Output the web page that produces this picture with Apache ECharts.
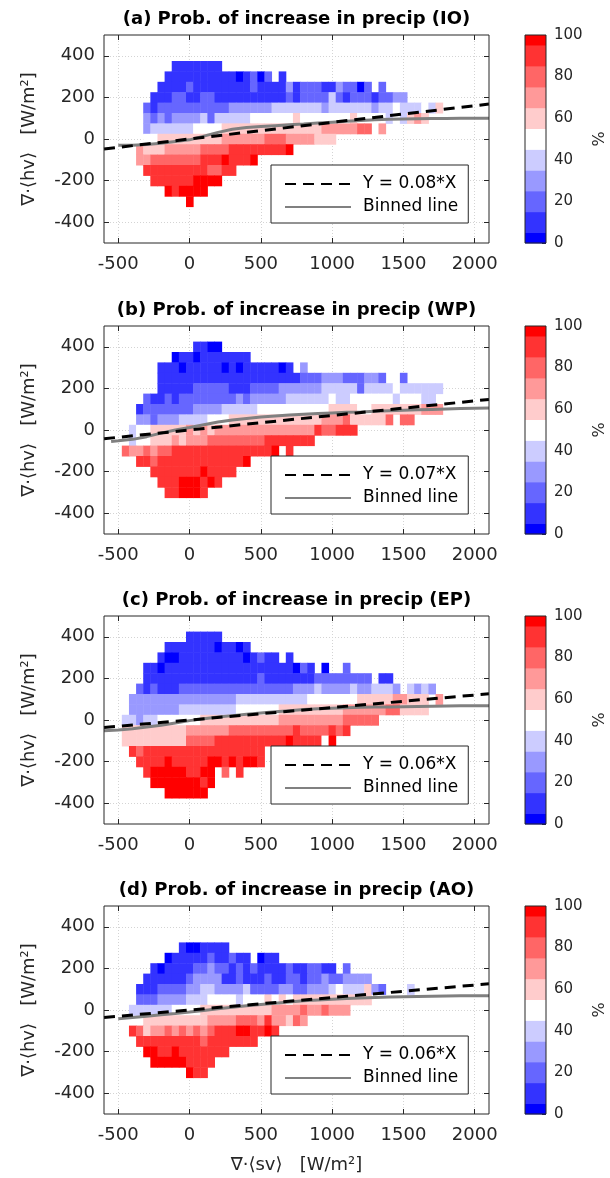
<!DOCTYPE html>
<html><head><meta charset="utf-8">
<script src="https://cdn.jsdelivr.net/npm/echarts@6/dist/echarts.min.js"></script>
<style>html,body{margin:0;padding:0;background:#fff}#c{width:610px;height:1178px}</style>
</head><body><div id="c"></div>
<script>
// ---------------- data ----------------
const panelTitles = [
  '(a) Prob. of increase in precip (IO)',
  '(b) Prob. of increase in precip (WP)',
  '(c) Prob. of increase in precip (EP)',
  '(d) Prob. of increase in precip (AO)'
];
const xTicks = [-500, 0, 500, 1000, 1500, 2000];
const yTicks = [-400, -200, 0, 200, 400];
const cbTicks = [0, 20, 40, 60, 80, 100];
// colour classes (percent)
const levelValues = [0, 10, 20, 30, 40, 50, 60, 70, 80, 90, 100];
const levelLow    = [0, 5, 15, 25, 35, 45, 55, 65, 75, 85, 95];
const levelHigh   = [5, 15, 25, 35, 45, 55, 65, 75, 85, 95, 100];
const levelColors = ['#0000ff','#3333ff','#6666ff','#9999ff','#ccccff','#ffffff',
                     '#ffcccc','#ff9999','#ff6666','#ff3333','#ff0000'];
// heat-map rows: [row centre (y), first column centre (x), class per 50-wide cell; 'A'=100%, '.'=empty]
const cellsA = [
  [350, -100, '1111111'],
  [300, -150, '111111111101202.1'],
  [250, -200, '111121111111121111312221132202.2'],
  [200, -250, '111221122111111111121222242122212233'],
  [150, -300, '212222222222333333444444434444443445444546'],
  [100, -300, '3232333342444445555556555555565555454676'],
  [50, -300, '34444445555666666666666667777788.7'],
  [0, -300, '556666666667777778887777666'],
  [-50, -350, '766677777888899999999A'],
  [-100, -350, '778888888999A999A'],
  [-150, -300, '9999999998899'],
  [-200, -250, '999999AAAA'],
  [-250, -150, 'A9AAAA'],
  [-300, 0, 'A']
];
const cellsB = [
  [400, 50, '1100'],
  [350, -100, '01101111111'],
  [300, -200, '1110111110101111101.3'],
  [250, -200, '11111111111111111111222333222332..2'],
  [200, -200, '1111122222111222233333344444244445444444'],
  [150, -300, '21121222222223233333444444544555555455544'],
  [100, -350, '1222222233334444455555555556666556666666777'],
  [50, -350, '332333444455566666666666667778666668.88'],
  [0, -400, '45566666767677777777777777988999'],
  [-50, -400, '45566676777888888889999999'],
  [-100, -450, '877878899999999999999A.9'],
  [-150, -350, '998999999999999A'],
  [-200, -250, '9999999A9999'],
  [-250, -200, '999AAA9A9'],
  [-300, -150, '99AAA9']
];
const cellsC = [
  [400, 0, '11111'],
  [350, -150, '111111101101'],
  [300, -200, '10011111111101211.1'],
  [250, -300, '110111111111111111111021.0..2'],
  [200, -300, '11111111111111112111111122222222.11'],
  [150, -350, '2121112222222222222222333433334334443.4343'],
  [100, -400, '333333333333333444444444455555556666677666.7'],
  [50, -400, '333333344444444555555666666666777777886666'],
  [0, -450, '443445555556666666666677777777788888'],
  [-50, -450, '66666666677777788888888898888989'],
  [-100, -450, '66666666688889999999999A99995A'],
  [-150, -400, '9899999999999999999'],
  [-200, -350, '9999A99999AA9A9AA9'],
  [-250, -300, '9AAAAA99AA.8.9'],
  [-300, -250, 'AAAAAAA9A'],
  [-350, -150, 'AAAAAA']
];
const cellsD = [
  [300, -50, '1001111'],
  [250, -150, '011111211211.011'],
  [200, -250, '10111122322121211112112211.2'],
  [150, -300, '11111123333112111211221223223333'],
  [100, -350, '11122223344333342222332233345444632...4'],
  [50, -350, '222333344455554555656566666666666'],
  [0, -400, '4444445555666666666677778778777'],
  [-50, -300, '6666666667777888797768 7'.replace(' ', '')],
  [-100, -400, '986778787878999AA99A9'],
  [-150, -350, '99999999989999999'],
  [-200, -300, 'AA99A9999999'],
  [-250, -250, 'AAAAA9999'],
  [-300, 0, 'A99']
];
const fitNames = ['Y = 0.08*X', 'Y = 0.07*X', 'Y = 0.06*X', 'Y = 0.06*X'];
const fitA = [[-600, -48], [2100, 168]];
const fitB = [[-600, -42], [2100, 147]];
const fitC = [[-600, -36], [2100, 126]];
const fitD = [[-600, -36], [2100, 126]];
const binnedA = [[-500,-30],[-400,-30],[-300,-27],[-200,-20],[-100,-12],[0,-4],[100,14],[200,32],[300,47],[400,55],[500,60],[600,64],[700,68],[800,72],[900,77],[1000,81],[1100,85],[1200,89],[1300,92],[1400,95],[1500,96],[1600,97],[1700,98],[1800,99],[1900,100],[2000,100],[2100,100]];
const binnedB = [[-550,-55],[-500,-52],[-400,-45],[-300,-32],[-200,-15],[-100,0],[0,12],[100,25],[200,38],[300,48],[400,55],[500,62],[600,67],[700,72],[800,76],[900,79],[1000,82],[1100,85],[1200,87],[1300,90],[1400,93],[1500,95],[1600,97],[1700,99],[1800,101],[1900,103],[2000,105],[2100,106]];
const binnedC = [[-600,-52],[-500,-48],[-400,-42],[-300,-34],[-200,-25],[-100,-14],[0,-3],[100,6],[200,14],[300,21],[400,28],[500,34],[600,40],[700,45],[800,50],[900,54],[1000,57],[1100,59],[1200,61],[1300,62],[1400,63],[1500,64],[1600,65],[1700,66],[1800,67],[1900,68],[2000,69],[2100,69]];
const binnedD = [[-500,-42],[-400,-36],[-300,-30],[-200,-23],[-100,-17],[0,-10],[100,-2],[200,6],[300,13],[400,20],[500,27],[600,33],[700,39],[800,44],[900,48],[1000,52],[1100,55],[1200,58],[1300,60],[1400,62],[1500,64],[1600,65],[1700,66],[1800,67],[1900,68],[2000,69],[2100,69]];
const yName = '\u2207\u00b7\u27e8hv\u27e9   [W/m\u00b2]';
const xName = '\u2207\u00b7\u27e8sv\u27e9   [W/m\u00b2]';

// ---------------- layout / style ----------------
const BIN = 50;
const FONT = 'DejaVu Sans';
const TXT = '#262626';
const GRID_LEFT = 104, GRID_W = 385, GRID_H = 208;
const TOPS = [35, 326, 616, 906];
const CB_LEFT = 525, CB_W = 21;
const plainNum = v => String(v);

function decode(rows) {
  const out = [];
  rows.forEach(([y, x0, s]) => {
    for (let k = 0; k < s.length; k++) {
      const ch = s[k];
      if (ch === '.') continue;
      const lev = ch === 'A' ? 10 : parseInt(ch, 10);
      out.push([x0 + BIN * k, y, levelValues[lev]]);
    }
  });
  return out;
}
function renderCell(params, api) {
  const x = api.value(0), y = api.value(1);
  const a = api.coord([x - BIN / 2, y + BIN / 2]);
  const b = api.coord([x + BIN / 2, y - BIN / 2]);
  return { type: 'rect', shape: { x: a[0], y: a[1], width: b[0] - a[0] + 0.5, height: b[1] - a[1] + 0.5 },
           style: { fill: api.visual('color') } };
}
function renderSeg(params, api) {
  const a = api.coord([0, api.value(3)]);
  const b = api.coord([1, api.value(1)]);
  return { type: 'rect', shape: { x: a[0], y: a[1], width: b[0] - a[0], height: b[1] - a[1] + 0.4 },
           style: { fill: api.visual('color') } };
}

const panels = [
  { cells: cellsA, fit: fitA, binned: binnedA },
  { cells: cellsB, fit: fitB, binned: binnedB },
  { cells: cellsC, fit: fitC, binned: binnedC },
  { cells: cellsD, fit: fitD, binned: binnedD }
];
const cbData = levelValues.map((v, i) => [0, levelLow[i], v, levelHigh[i]]);

const grid = [], xAxis = [], yAxis = [], series = [], legend = [], graphic = [];
const mappedSeries = [];
const tickStyle = { color: TXT, width: 1 };
panels.forEach((p, i) => {
  const top = TOPS[i];
  grid.push({ left: GRID_LEFT, top, width: GRID_W, height: GRID_H, show: true, z: 10,
              backgroundColor: 'transparent', borderColor: TXT, borderWidth: 1 });
  grid.push({ left: CB_LEFT, top, width: CB_W, height: GRID_H, show: true, z: 10,
              backgroundColor: 'transparent', borderColor: TXT, borderWidth: 1 });
  const gMain = 2 * i, gCb = 2 * i + 1;
  const xi = xAxis.length, yi = yAxis.length;
  xAxis.push({
    type: 'value', gridIndex: gMain, min: -600, max: 2100, position: 'bottom',
    axisLine: { show: false, onZero: false },
    axisTick: { show: true, inside: true, length: 5, customValues: xTicks, lineStyle: tickStyle },
    axisLabel: { customValues: xTicks, formatter: plainNum, fontSize: 18, fontFamily: FONT, color: TXT, margin: 12 },
    splitLine: { show: true, lineStyle: { color: '#d4d4d4', type: [1, 2], width: 1 } },
    name: i === 3 ? xName : '', nameLocation: 'middle', nameGap: 42,
    nameTextStyle: { fontSize: 18, fontFamily: FONT, color: TXT }
  });
  xAxis.push({
    type: 'value', gridIndex: gMain, min: -600, max: 2100, position: 'top',
    axisLine: { show: false, onZero: false }, axisLabel: { show: false }, splitLine: { show: false },
    axisTick: { show: true, inside: true, length: 5, customValues: xTicks, lineStyle: tickStyle }
  });
  xAxis.push({ type: 'value', gridIndex: gCb, min: 0, max: 1, show: false, axisLine: { onZero: false } });
  yAxis.push({
    type: 'value', gridIndex: gMain, min: -500, max: 500, position: 'left',
    axisLine: { show: false, onZero: false },
    axisTick: { show: true, inside: true, length: 5, customValues: yTicks, lineStyle: tickStyle },
    axisLabel: { customValues: yTicks, formatter: plainNum, fontSize: 18, fontFamily: FONT, color: TXT, margin: 9 },
    splitLine: { show: true, lineStyle: { color: '#d4d4d4', type: [1, 2], width: 1 } },
    name: yName, nameLocation: 'middle', nameGap: 66, nameRotate: 90,
    nameTextStyle: { fontSize: 18, fontFamily: FONT, color: TXT }
  });
  yAxis.push({
    type: 'value', gridIndex: gMain, min: -500, max: 500, position: 'right',
    axisLine: { show: false, onZero: false }, axisLabel: { show: false }, splitLine: { show: false },
    axisTick: { show: true, inside: true, length: 5, customValues: yTicks, lineStyle: tickStyle }
  });
  yAxis.push({
    type: 'value', gridIndex: gCb, min: 0, max: 100, interval: 20, position: 'right',
    axisLine: { show: false, onZero: false }, splitLine: { show: false },
    axisTick: { show: true, inside: true, length: 4, customValues: cbTicks, lineStyle: tickStyle },
    axisLabel: { customValues: cbTicks, formatter: plainNum, fontSize: 15, fontFamily: FONT, color: TXT, margin: 8 },
    name: '%', nameLocation: 'middle', nameGap: 46, nameRotate: 90,
    nameTextStyle: { fontSize: 16, fontFamily: FONT, color: TXT }
  });
  mappedSeries.push(series.length);
  series.push({ type: 'custom', name: 'cells' + i, xAxisIndex: xi, yAxisIndex: yi,
                data: decode(p.cells), renderItem: renderCell, encode: { x: 0, y: 1 }, z: 1, silent: true });
  mappedSeries.push(series.length);
  series.push({ type: 'custom', name: 'cbar' + i, xAxisIndex: xi + 2, yAxisIndex: yi + 2,
                data: cbData, renderItem: renderSeg, encode: { x: 0, y: [1, 3] }, z: 1, silent: true });
  series.push({ type: 'line', name: 'Binned line', xAxisIndex: xi, yAxisIndex: yi, data: p.binned,
                symbol: 'none', z: 3, silent: true,
                lineStyle: { color: '#808080', width: 3 }, itemStyle: { color: 'rgba(0,0,0,0)' } });
  series.push({ type: 'line', name: fitNames[i], xAxisIndex: xi, yAxisIndex: yi, data: p.fit,
                symbol: 'none', z: 4, silent: true,
                lineStyle: { color: '#000', width: 3, type: [11, 7] }, itemStyle: { color: 'rgba(0,0,0,0)' } });
  legend.push({
    left: 271, top: top + 130, orient: 'vertical', data: [fitNames[i], 'Binned line'],
    selectedMode: false, backgroundColor: '#fff', borderColor: TXT, borderWidth: 1,
    padding: [10, 10, 7, 13], itemWidth: 66, itemHeight: 14, itemGap: 5, z: 20,
    itemStyle: { opacity: 0, borderWidth: 0 },
    textStyle: { fontSize: 17, fontFamily: FONT, color: '#000', padding: [0, 0, 0, 7], lineHeight: 18 }
  });
  graphic.push({ type: 'text', x: GRID_LEFT + GRID_W / 2, y: top - 15.5, z: 30,
                 style: { text: panelTitles[i], font: 'bold 18px "DejaVu Sans"', fill: '#000',
                          align: 'center', verticalAlign: 'middle', textAlign: 'center', textVerticalAlign: 'middle' } });
});

const option = {
  animation: false,
  backgroundColor: '#fff',
  textStyle: { fontFamily: FONT },
  grid, xAxis, yAxis, series, legend, graphic,
  visualMap: {
    type: 'piecewise', show: false, dimension: 2, seriesIndex: mappedSeries,
    pieces: levelValues.map((v, i) => i === 10
      ? { gte: levelLow[i], lte: levelHigh[i], color: levelColors[i] }
      : { gte: levelLow[i], lt: levelHigh[i], color: levelColors[i] })
  }
};
const chart = echarts.init(document.getElementById('c'), null, { renderer: 'canvas' });
chart.setOption(option);
</script></body></html>
